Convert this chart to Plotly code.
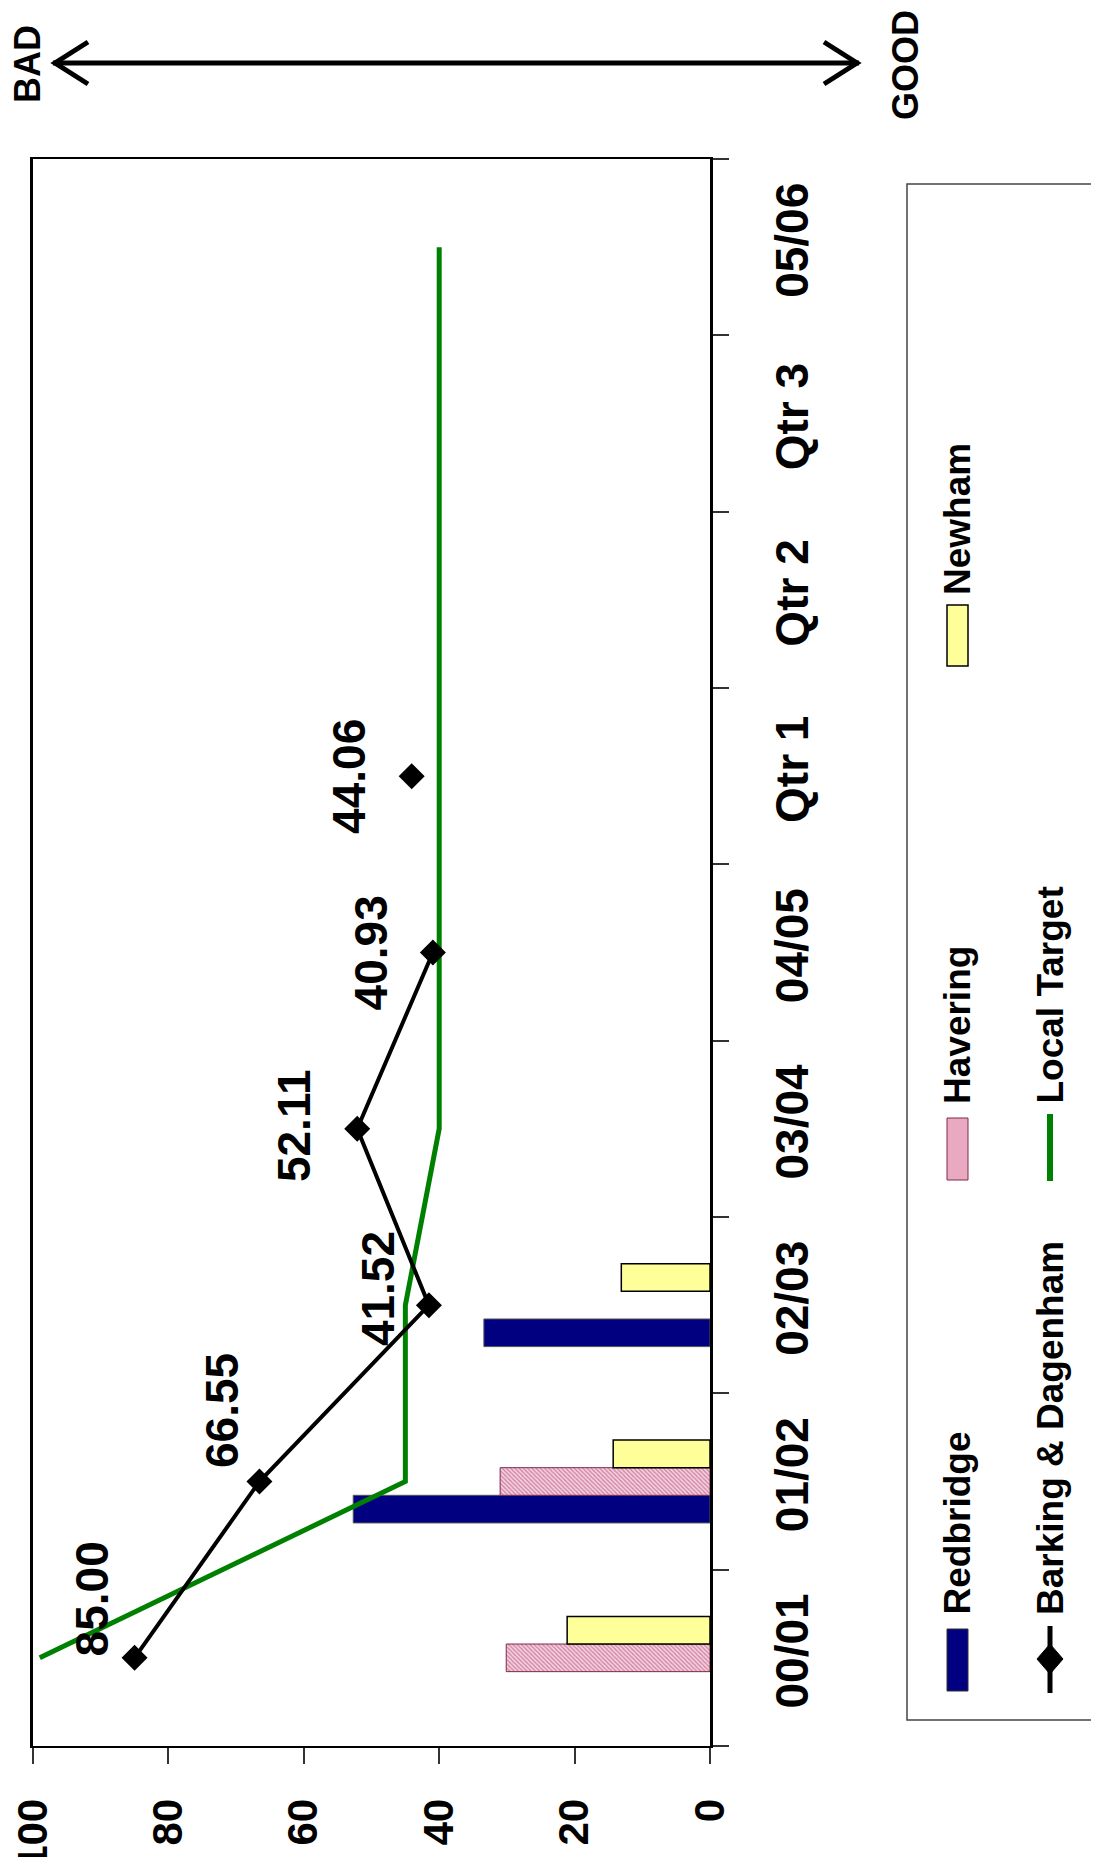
import plotly.graph_objects as go

# data
categories = ["00/01", "01/02", "02/03", "03/04", "04/05", "Qtr 1", "Qtr 2", "Qtr 3", "05/06"]
redbridge = [None, 52.7, 33.4, None, None, None, None, None, None]
havering = [30.1, 31.0, None, None, None, None, None, None, None]
newham = [21.1, 14.3, 13.1, None, None, None, None, None, None]
barking = [85.00, 66.55, 41.52, 52.11, 40.93, None, None, None, None]
barking_qtr = [None, None, None, None, None, 44.06, None, None, None]
local_target = [99, 45, 45, 40, 40, 40, 40, 40, 40]
value_ticks = [0, 20, 40, 60, 80, 100]

# label offsets (px) for the Barking & Dagenham values
label_shift = [(-43, 59), (-38, 71), (-51, 17), (-63, 3), (-62, 0), (-63, 0)]

# page is drawn with an 8px body margin, so the figure is shifted by that
OFF = 8
W, H = 1099 - 2 * OFF, 1865 - 2 * OFF
# plot area in page pixels
L, R, T, B = 33, 710, 159, 1746
FONT = "Liberation Sans, Arial, sans-serif"


def px(x):
    return (x - L) / (R - L)


def py(y):
    return (B - y) / (B - T)


fig = go.Figure()

fig.add_trace(go.Bar(
    y=categories, x=redbridge, orientation="h", name="Redbridge",
    marker=dict(color="#000080", line=dict(color="#555555", width=1))
))
fig.add_trace(go.Bar(
    y=categories, x=havering, orientation="h", name="Havering",
    marker=dict(color="#f6d3df", line=dict(color="#7a2a4a", width=1),
                pattern=dict(shape="\\", fgcolor="#a8356a", size=3, solidity=0.45))
))
fig.add_trace(go.Bar(
    y=categories, x=newham, orientation="h", name="Newham",
    marker=dict(color="#ffff99", line=dict(color="#000000", width=1.5))
))
fig.add_trace(go.Scatter(
    y=categories, x=local_target, mode="lines", name="Local Target",
    line=dict(color="#008000", width=5)
))
fig.add_trace(go.Scatter(
    y=categories, x=barking, mode="lines+markers", name="Barking & Dagenham",
    line=dict(color="#000000", width=4),
    marker=dict(symbol="diamond", size=20, color="#000000")
))
fig.add_trace(go.Scatter(
    y=categories, x=barking_qtr, mode="markers", showlegend=False,
    marker=dict(symbol="diamond", size=20, color="#000000")
))

annotations = []
pts = [(v, c) for v, c in zip(barking, categories) if v is not None]
pts += [(v, c) for v, c in zip(barking_qtr, categories) if v is not None]
for (v, c), (dx, dy) in zip(pts, label_shift):
    annotations.append(dict(
        x=v, y=c, xref="x", yref="y", text=f"{v:.2f}", showarrow=False,
        textangle=-90, xshift=dx, yshift=dy,
        font=dict(family=FONT, size=46, color="black", weight="bold")
    ))

# BAD / GOOD labels
annotations.append(dict(x=px(28), y=py(64), xref="paper", yref="paper", text="BAD",
                        showarrow=False, textangle=-90, xanchor="center", yanchor="middle",
                        font=dict(family=FONT, size=36, color="black", weight="bold")))
annotations.append(dict(x=px(905), y=py(65), xref="paper", yref="paper", text="GOOD",
                        showarrow=False, textangle=-90, xanchor="center", yanchor="middle",
                        font=dict(family=FONT, size=36, color="black", weight="bold")))

# manual rotated legend
legend_items = [
    ("Redbridge", 957, 1617),
    ("Havering", 957, 1106),
    ("Newham", 957, 597),
    ("Barking & Dagenham", 1050, 1617),
    ("Local Target", 1050, 1106),
]
for name, lx, ly in legend_items:
    annotations.append(dict(x=px(lx), y=py(ly), xref="paper", yref="paper", text=name,
                            showarrow=False, textangle=-90, xanchor="center", yanchor="bottom",
                            font=dict(family=FONT, size=37, color="black", weight="bold")))


def path(points):
    return "M " + " L ".join(f"{px(a):.5f},{py(b):.5f}" for a, b in points)


shapes = [
    # arrow
    dict(type="path", xref="paper", yref="paper", path=path([(53, 63), (859, 63)]),
         line=dict(color="black", width=5)),
    dict(type="path", xref="paper", yref="paper", path=path([(88, 42), (55, 63), (88, 84)]),
         line=dict(color="black", width=5)),
    dict(type="path", xref="paper", yref="paper", path=path([(824, 42), (857, 63), (824, 84)]),
         line=dict(color="black", width=5)),
    # legend box
    dict(type="rect", xref="paper", yref="paper", x0=px(907), x1=px(1095), y0=py(184), y1=py(1720),
         line=dict(color="#444444", width=1.5), fillcolor="rgba(0,0,0,0)"),
    # legend swatches
    dict(type="rect", xref="paper", yref="paper", x0=px(947), x1=px(968), y0=py(1629), y1=py(1691),
         fillcolor="#000080", line=dict(color="#333333", width=1)),
    dict(type="rect", xref="paper", yref="paper", x0=px(947), x1=px(968), y0=py(1118), y1=py(1180),
         fillcolor="#e9a9c0", line=dict(color="#7a2a4a", width=1)),
    dict(type="rect", xref="paper", yref="paper", x0=px(947), x1=px(968), y0=py(605), y1=py(666),
         fillcolor="#ffff99", line=dict(color="black", width=1.5)),
    dict(type="path", xref="paper", yref="paper", path=path([(1050, 1626), (1050, 1693)]),
         line=dict(color="black", width=5)),
    dict(type="path", xref="paper", yref="paper",
         path=path([(1050, 1644), (1063, 1659), (1050, 1674), (1037, 1659)]) + " Z",
         fillcolor="black", line=dict(color="black", width=1)),
    dict(type="path", xref="paper", yref="paper", path=path([(1050, 1114), (1050, 1181)]),
         line=dict(color="#008000", width=6)),
]

fig.update_layout(
    width=W, height=H,
    margin=dict(l=L - OFF, r=W - (R - OFF), t=T - OFF, b=H - (B - OFF), autoexpand=False),
    paper_bgcolor="white", plot_bgcolor="white",
    barmode="group", bargap=0.53, bargroupgap=0,
    showlegend=False,
    annotations=annotations,
    shapes=shapes,
    font=dict(family=FONT, color="black"),
)
fig.update_xaxes(
    range=[100, 0], tickvals=value_ticks, ticks="outside", ticklen=16, tickwidth=1.5,
    tickcolor="#333333", showline=True, linecolor="black", linewidth=2, mirror=True,
    showgrid=False, zeroline=False, tickangle=-90, ticklabelstandoff=18, automargin=False,
    ticklabeloverflow="allow",
    tickfont=dict(family=FONT, size=42, color="black", weight="bold")
)
fig.update_yaxes(
    type="category", categoryorder="array", categoryarray=categories, range=[-0.5, 8.5],
    side="right", ticks="outside", tickson="boundaries", ticklen=16, tickwidth=1.5,
    tickcolor="#333333", showline=True, linecolor="black", linewidth=2.5, mirror=True,
    showgrid=False, zeroline=False, tickangle=-90, ticklabelstandoff=40, automargin=False,
    tickfont=dict(family=FONT, size=46, color="black", weight="bold")
)

fig.write_html("out.html")
